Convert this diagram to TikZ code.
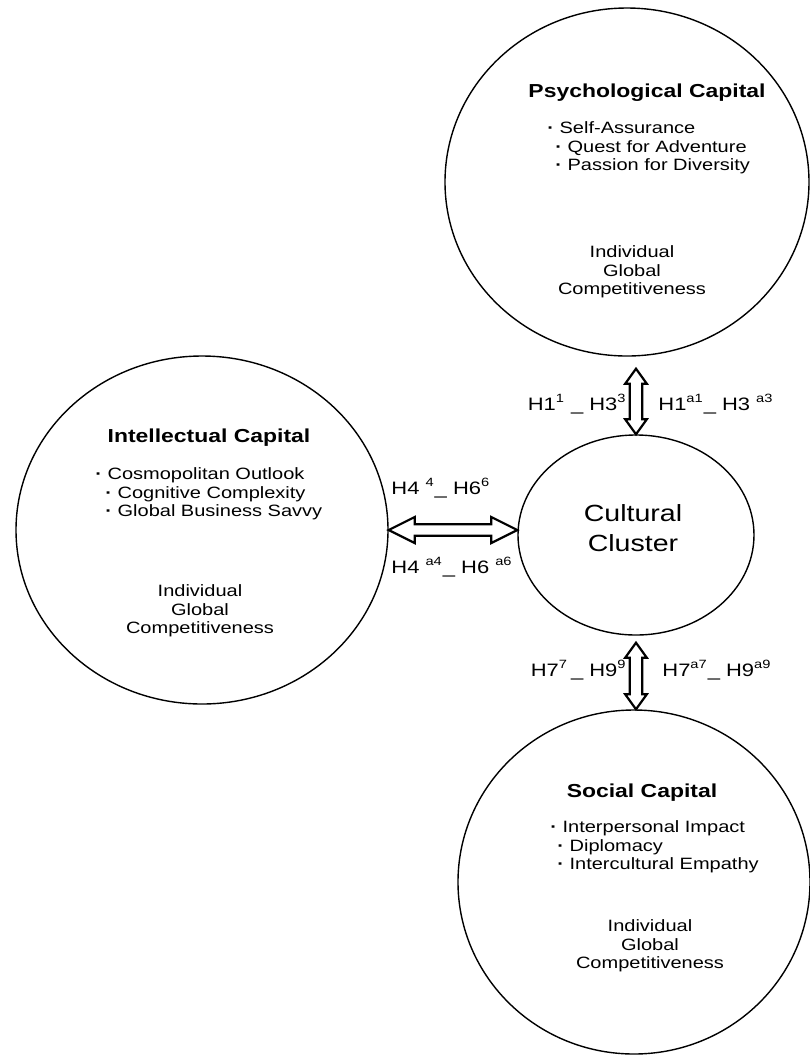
\documentclass[tikz,border=0pt]{standalone}
\usepackage{fontspec}
\setmainfont{Liberation Sans}[FakeStretch=1.22]
\usetikzlibrary{shapes.geometric,calc}

\begin{document}
\begin{tikzpicture}[x=0.5pt, y=-0.5pt,
    every node/.style={font=\fontsize{8.2}{9.15}\selectfont},
    capital/.style={draw, ellipse, line width=0.7pt, inner sep=0pt},
    hollow/.style={draw, fill=white, line width=1.1pt, line join=miter},
    ttl/.style={font=\fontsize{9.4}{11}\selectfont\bfseries, anchor=base},
    lst/.style={inner sep=0pt, align=left, anchor=west},
    igc/.style={inner sep=0pt, align=center},
    hyp/.style={font=\fontsize{9}{11}\selectfont, inner sep=0pt}]
        \useasboundingbox (0,0) rectangle (810,1057);
        % capitals
        \node[capital, minimum width=182pt, minimum height=174pt] (psy) at (627,182) {};
        \node[capital, minimum width=186pt, minimum height=174pt] (intel) at (202,530) {};
        \node[capital, minimum width=118pt, minimum height=100pt] (cc) at (636,535) {};
        \node[capital, minimum width=176pt, minimum height=172pt] (soc) at (634,882) {};
        % psychological
        \node[ttl] (psyttl) at (647,97) {Psychological Capital};
        \node[lst] (psylst) at (547,148) {{\bfseries ·} Self-Assurance\\
          \hspace*{4pt}{\bfseries ·} Quest for Adventure\\
          \hspace*{4pt}{\bfseries ·} Passion for Diversity};
        \node[igc] (psyigc) at (632,272) {Individual\\Global\\Competitiveness};
        % intellectual
        \node[ttl] (intttl) at (209,442) {Intellectual Capital};
        \node[lst] (intlst) at (95,494) {{\bfseries ·} Cosmopolitan Outlook\\
          \hspace*{5pt}{\bfseries ·} Cognitive Complexity\\
          \hspace*{5pt}{\bfseries ·} Global Business Savvy};
        \node[igc] (intigc) at (200,611) {Individual\\Global\\Competitiveness};
        % social
        \node[ttl] (socttl) at (642,797) {Social Capital};
        \node[lst] (soclst) at (550,847) {{\bfseries ·} Interpersonal Impact\\
          \hspace*{3.5pt}{\bfseries ·} Diplomacy\\
          \hspace*{3.5pt}{\bfseries ·} Intercultural Empathy};
        \node[igc] (socigc) at (650,946) {Individual\\Global\\Competitiveness};
        % cluster
        \node[igc, font=\fontsize{11.7}{15}\selectfont] (cctxt) at (633,528) {Cultural\\Cluster};
        % arrows
        \coordinate (t1) at ($(cc.north |- psy.south)+(0pt,-6pt)$);
        \draw[hollow] (t1) -- ++(-5.4pt,-7.5pt) -- ++(2.3pt,0pt)
          -- ($(cc.north)+(-3.1pt,7.5pt)$) -- ++(-2.3pt,0pt) -- (cc.north)
          -- ++(5.4pt,7.5pt) -- ++(-2.3pt,0pt)
          -- ($(t1)+(3.1pt,-7.5pt)$) -- ++(2.3pt,0pt) -- cycle;
        \coordinate (b1) at ($(cc.south)+(0pt,-3.5pt)$);
        \coordinate (b2) at (cc.south |- soc.north);
        \draw[hollow] (b1) -- ++(-5.4pt,-7.5pt) -- ++(2.3pt,0pt)
          -- ($(b2)+(-3.1pt,7.5pt)$) -- ++(-2.3pt,0pt) -- (b2)
          -- ++(5.4pt,7.5pt) -- ++(-2.3pt,0pt)
          -- ($(b1)+(3.1pt,-7.5pt)$) -- ++(2.3pt,0pt) -- cycle;
        \coordinate (h2) at (intel.east -| cc.west);
        \draw[hollow] (intel.east) -- ++(13pt,6.5pt) -- ++(0pt,-3.6pt)
          -- ($(h2)+(-13pt,2.9pt)$) -- ++(0pt,3.6pt) -- (h2)
          -- ++(-13pt,-6.5pt) -- ++(0pt,3.6pt)
          -- ($(intel.east)+(13pt,-2.9pt)$) -- ++(0pt,-3.6pt) -- cycle;
        % hypotheses
        \node[hyp, anchor=base east] (h13) at (627,410) {H1\textsuperscript{1} \_ H3\textsuperscript{3}};
        \node[hyp, anchor=base west] (h13a) at (658,410) {H1\textsuperscript{a1}\_ H3 \textsuperscript{a3}};
        \node[hyp, anchor=base west] (h46) at (391,494) {H4 \textsuperscript{4}\_ H6\textsuperscript{6}};
        \node[hyp, anchor=base west] (h46a) at (391,573) {H4 \textsuperscript{a4}\_ H6 \textsuperscript{a6}};
        \node[hyp, anchor=base east] (h79) at (627,676) {H7\textsuperscript{7}\,\_ H9\textsuperscript{9}};
        \node[hyp, anchor=base west] (h79a) at (662,676) {H7\textsuperscript{a7}\_ H9\textsuperscript{a9}};
      \end{tikzpicture}
\end{document}
